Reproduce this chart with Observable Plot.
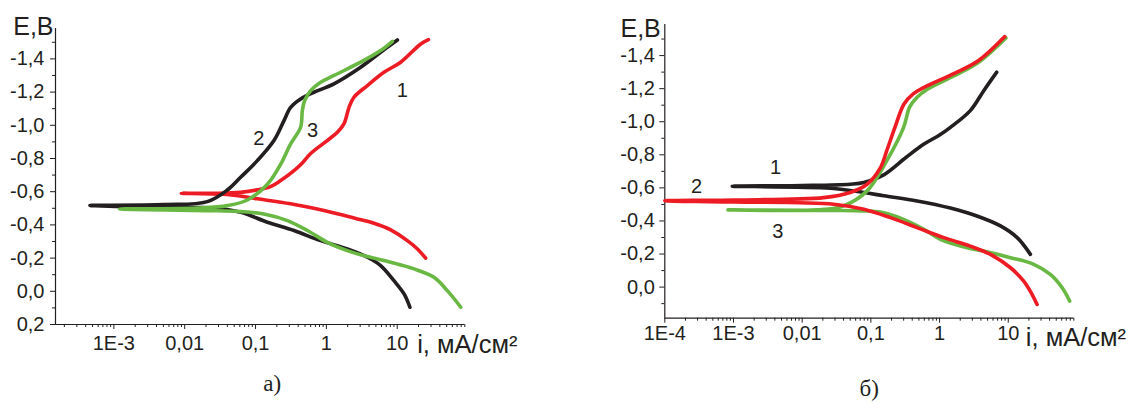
<!DOCTYPE html>
<html><head><meta charset="utf-8">
<script src="https://cdn.jsdelivr.net/npm/d3@7"></script>
<script src="https://cdn.jsdelivr.net/npm/@observablehq/plot@0.6"></script>
<style>
html,body{margin:0;padding:0;background:#fff;}
#wrap{display:flex;width:1130px;height:403px;overflow:hidden;}
#wrap svg{flex:none;}
</style></head><body><div id="wrap"></div>
<script>
// ---- tick values and labels ----
const xTicks = [1e-4, 1e-3, 0.01, 0.1, 1, 10];
const xTickLabels = ["1E-4", "1E-3", "0,01", "0,1", "1", "10"];
const yTicks = [-1.4, -1.2, -1.0, -0.8, -0.6, -0.4, -0.2, 0.0, 0.2];
const yTickLabels = ["-1,4", "-1,2", "-1,0", "-0,8", "-0,6", "-0,4", "-0,2", "0,0", "0,2"];
const yMinorTicks = [-1.5, -1.3, -1.1, -0.9, -0.7, -0.5, -0.3, -0.1, 0.1];
const yAxisTitle = "E,B";
const xAxisTitle = "i, мА/см²";
const captions = ["а)", "б)"];

// ---- panel а): [i (мА/см²), E (В)] ----
const a1 = [ // red, curve 1
  [27.6,-1.516],[21.5,-1.49],[11.2,-1.38],[6.5,-1.319],[3.79,-1.239],[2.45,-1.169],[2.09,-1.108],
  [1.77,-1.008],[1.43,-0.958],[1.03,-0.908],[0.6,-0.83],[0.45,-0.77],[0.349,-0.727],[0.226,-0.667],
  [0.163,-0.631],[0.106,-0.611],[0.0616,-0.596],[0.0288,-0.59],[0.00895,-0.59],
  [0.04,-0.583],[0.106,-0.557],[0.313,-0.527],[0.925,-0.486],[2.74,-0.436],[4.7,-0.41],
  [8.1,-0.37],[13.9,-0.305],[19.3,-0.255],[25.2,-0.2]
];
const a2 = [ // black, curve 2
  [10.07,-1.514],[5.84,-1.44],[3.05,-1.35],[1.28,-1.25],[0.668,-1.199],[0.433,-1.159],[0.313,-1.108],
  [0.252,-1.028],[0.182,-0.908],[0.106,-0.787],[0.0616,-0.687],[0.04,-0.61],[0.0209,-0.54],
  [0.005,-0.522],[4.6e-4,-0.517],
  [0.005,-0.507],[0.026,-0.502],[0.0616,-0.476],[0.147,-0.416],[0.349,-0.366],[0.83,-0.305],
  [1.98,-0.255],[3.8,-0.205],[5.84,-0.155],[9.0,-0.064],[12.5,0.016],[15.1,0.096]
];
const a3 = [ // green, curve 3
  [8.55,-1.506],[5.84,-1.45],[3.05,-1.38],[1.28,-1.3],[0.83,-1.259],[0.6,-1.209],[0.494,-1.149],
  [0.458,-1.089],[0.433,-0.988],[0.313,-0.888],[0.226,-0.765],[0.147,-0.645],[0.0766,-0.55],
  [0.04,-0.516],[0.015,-0.502],[1.2e-3,-0.495],
  [0.021,-0.486],[0.0616,-0.48],[0.131,-0.466],[0.282,-0.426],[0.54,-0.366],[1.03,-0.295],
  [1.98,-0.245],[3.79,-0.209],[8.1,-0.175],[17.3,-0.135],[33,-0.084],[51,-0.004],[79,0.096]
];
const aNumbers = [
  {t: "1", i: 11.8, E: -1.209},
  {t: "2", i: 0.111, E: -0.92},
  {t: "3", i: 0.64, E: -0.968}
];

// ---- panel б) ----
const b1 = [ // black, curve 1
  [6.8,-1.30],[4.4,-1.188],[2.8,-1.067],[1.44,-0.966],[1.0,-0.92],[0.594,-0.865],[0.324,-0.784],
  [0.154,-0.679],[0.079,-0.632],[0.05,-0.622],[0.01,-0.614],[9.6e-4,-0.61],
  [0.0258,-0.598],[0.079,-0.572],[0.154,-0.552],[0.47,-0.521],[1.44,-0.478],[3.5,-0.43],
  [7.7,-0.37],[13.5,-0.299],[21,-0.198]
];
const b2 = [ // red, curve 2
  [8.9,-1.515],[3.7,-1.37],[1.58,-1.289],[0.594,-1.208],[0.413,-1.168],[0.304,-1.107],[0.224,-0.966],
  [0.17,-0.824],[0.138,-0.723],[0.088,-0.622],[0.05,-0.572],[0.0206,-0.541],[0.001,-0.527],[1e-4,-0.522],
  [0.001,-0.515],[0.0288,-0.501],[0.079,-0.471],[0.193,-0.42],[0.47,-0.36],[1.15,-0.299],
  [2.8,-0.248],[5.5,-0.198],[10.8,-0.117],[16.8,-0.036],[22.3,0.045],[26.3,0.105]
];
const b3 = [ // green, curve 3
  [9.25,-1.507],[3.7,-1.36],[1.58,-1.275],[0.673,-1.198],[0.468,-1.147],[0.365,-1.087],[0.3,-0.966],
  [0.17,-0.764],[0.088,-0.582],[0.04,-0.491],[0.0166,-0.467],[8.3e-4,-0.467],
  [0.079,-0.461],[0.154,-0.45],[0.298,-0.41],[0.59,-0.35],[1.03,-0.289],[2.52,-0.238],
  [4.4,-0.218],[10.8,-0.178],[23.5,-0.138],[41,-0.077],[61,0.004],[78.5,0.085]
];
const bNumbers = [
  {t: "1", i: 0.0041, E: -0.723},
  {t: "2", i: 2.9e-4, E: -0.608},
  {t: "3", i: 0.0044, E: -0.333}
];

const RED = "#ed1c24", BLACK = "#231f20", GREEN = "#69b843";
const FONT = "'Liberation Sans', Arial, sans-serif";
const SERIF = "'Liberation Serif', 'Times New Roman', serif";

function panel(o) {
  const inX = v => v >= o.xDomain[0] * 0.999 && v <= o.xDomain[1] * 1.001;
  const inY = v => v <= o.yDomain[0] + 1e-9 && v >= o.yDomain[1] - 1e-9;
  const xMinor = [];
  for (const d of xTicks) for (let k = 2; k <= 9; k++) if (inX(d * k)) xMinor.push(d * k);
  const xMajor = xTicks.filter(inX);
  const yMajor = yTicks.filter(inY);
  const yMinor = yMinorTicks.filter(inY);
  const lines = o.curves.map(c => Plot.line(c.data, {
    x: d => d[0], y: d => d[1], stroke: c.color, strokeWidth: 3.6,
    curve: "catmull-rom", strokeLinecap: "round", strokeLinejoin: "round"
  }));
  return Plot.plot({
    width: 565, height: 403,
    marginLeft: o.m[3], marginRight: o.m[1], marginTop: o.m[0], marginBottom: o.m[2],
    x: {type: "log", domain: o.xDomain},
    y: {domain: o.yDomain},
    style: {fontFamily: FONT, fontSize: "20px", color: BLACK, background: "white", overflow: "visible"},
    marks: [
      Plot.ruleX([o.xDomain[0]], {stroke: BLACK, strokeWidth: 1.2}),
      Plot.ruleY([o.yDomain[0]], {stroke: BLACK, strokeWidth: 1.2}),
      Plot.axisX({ticks: xMajor, tickFormat: d => xTickLabels[xTicks.indexOf(d)], tickSize: 5, tickPadding: o.xPad, label: null}),
      Plot.axisX({ticks: xMinor, tickFormat: () => "", tickSize: 3, label: null}),
      Plot.axisY({ticks: yMajor, tickFormat: d => yTickLabels[yTicks.indexOf(d)], tickSize: 5, tickPadding: o.yPad, label: null}),
      Plot.axisY({ticks: yMinor, tickFormat: () => "", tickSize: 3, label: null}),
      ...lines,
      Plot.text(o.numbers, {x: "i", y: "E", text: "t", fontSize: 20, fill: BLACK}),
      Plot.text([yAxisTitle], {text: d => d, frameAnchor: "top-left", textAnchor: "end", lineAnchor: "bottom",
        dx: o.eD[0], dy: o.eD[1], fontSize: 25, fill: BLACK}),
      Plot.text([xAxisTitle], {text: d => d, frameAnchor: "bottom-right", textAnchor: "start", lineAnchor: "bottom",
        dx: o.iD[0], dy: o.iD[1], fontSize: 25.5, fill: BLACK}),
      Plot.text([o.caption], {text: d => d, frameAnchor: "bottom", lineAnchor: "bottom",
        dx: o.cD[0], dy: o.cD[1], fontSize: 23, fontFamily: SERIF, fill: BLACK})
    ]
  });
}

const wrap = document.getElementById("wrap");
wrap.appendChild(panel({
  xDomain: [1.5e-4, 90], yDomain: [0.2, -1.583],
  m: [28, 100.7, 79, 55],
  xPad: 6, yPad: 6,
  curves: [{data: a1, color: RED}, {data: a2, color: BLACK}, {data: a3, color: GREEN}],
  numbers: aNumbers,
  eD: [-2, 6], iD: [-47.6, 28.7], cD: [12, 66],
  caption: captions[0]
}));
wrap.appendChild(panel({
  xDomain: [1e-4, 90], yDomain: [0.188, -1.588],
  m: [24, 56.7, 85.3, 99.3],
  xPad: 3, yPad: 5,
  curves: [{data: b1, color: BLACK}, {data: b3, color: GREEN}, {data: b2, color: RED}],
  numbers: bNumbers,
  eD: [-4, 12], iD: [-48, 27.3], cD: [0, 78],
  caption: captions[1]
}));
</script></body></html>
